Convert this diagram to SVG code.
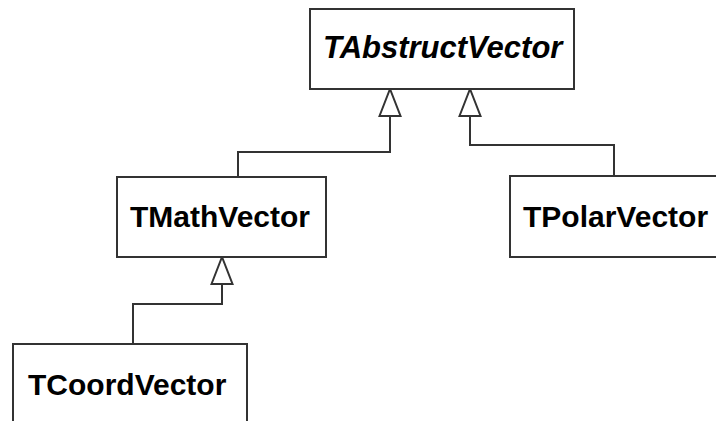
<svg xmlns="http://www.w3.org/2000/svg" width="716" height="421" viewBox="0 0 716 421">
<defs>
<style>
.box{fill:#fff;stroke:#333;stroke-width:2}
.lbl{font-family:"Liberation Sans",Arial,sans-serif;font-weight:bold;font-size:30px;fill:#000}
.abs{font-style:italic;font-size:31px}
.conn{fill:none;stroke:#333;stroke-width:2}
</style>
<marker id="tri" markerUnits="userSpaceOnUse" viewBox="-1 -1 30 24" markerWidth="30" markerHeight="24" refX="27" refY="11" orient="auto" overflow="visible">
<path d="M0,0.5 L27,11 L0,21.5 Z" fill="#fff" stroke="#333" stroke-width="2" stroke-linejoin="miter"/>
</marker>
</defs>
<rect width="716" height="421" fill="#fff"/>
<g id="connectors">
<path class="conn" d="M238,177 V152 H390 V89" marker-end="url(#tri)"/>
<path class="conn" d="M614,176 V145 H470 V89" marker-end="url(#tri)"/>
<path class="conn" d="M133,344 V304 H222 V257" marker-end="url(#tri)"/>
</g>
<g id="TAbstructVector">
<rect class="box" x="310" y="9" width="264" height="80"/>
<text class="lbl abs" x="323" y="58">TAbstructVector</text>
</g>
<g id="TMathVector">
<rect class="box" x="117" y="177" width="209" height="80"/>
<text class="lbl" x="130" y="227">TMathVector</text>
</g>
<g id="TPolarVector">
<rect class="box" x="510" y="176" width="230" height="81"/>
<text class="lbl" x="523" y="227">TPolarVector</text>
</g>
<g id="TCoordVector">
<rect class="box" x="13" y="344" width="234" height="100"/>
<text class="lbl" x="28" y="395">TCoordVector</text>
</g>
</svg>
